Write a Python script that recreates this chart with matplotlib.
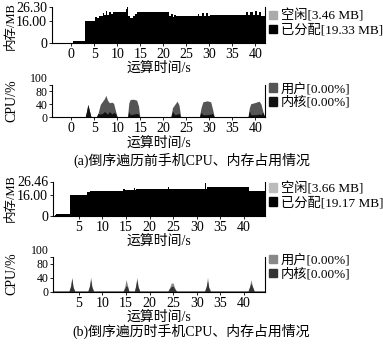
import matplotlib
matplotlib.use("Agg")
import matplotlib.pyplot as plt
from matplotlib.patches import Patch

plt.rcParams['font.family'] = ['Liberation Serif', 'Noto Sans CJK SC']
plt.rcParams['font.size'] = 10
plt.rcParams['axes.unicode_minus'] = False

# ---------------- data ----------------
# (a) memory before reverse traversal (step series, MB)
mem_a_t = [-4.2, 0.3, 3.0, 5.2, 5.6, 6.0, 6.8, 7.2, 7.5, 7.8, 8.2, 8.6, 9.0, 11.8, 12.1,
           12.4, 12.8, 13.3, 13.8, 14.3, 21.3, 21.7, 22.0, 22.3, 22.7, 27.5, 27.8, 28.3,
           28.8, 29.3, 29.8, 30.2, 38.0, 38.4, 38.8, 39.4, 39.9, 40.3, 40.7, 41.2, 42.1]
mem_a_alloc = [0, 1.45, 16.0, 18.9, 18.3, 19.2, 21.5, 19.8, 22.8, 20.3, 22.5, 21.0, 22.0,
               24.5, 25.6, 19.5, 17.6, 19.3, 21.0, 22.4, 19.3, 21.2, 18.6, 20.4, 19.5,
               21.0, 19.6, 21.4, 19.6, 21.7, 19.5, 20.4, 22.0, 19.8, 22.5, 20.4, 23.0,
               20.0, 22.6, 19.3, 19.3]
mem_a_ticks = [0, 16.00, 26.30]
mem_a_ticklabels = ["0", "16.00", "26.30"]

# (a) CPU before reverse traversal (%)
cpu_a_t = [-4.2, 3.0, 3.3, 3.6, 3.9, 4.3, 5.4, 5.8, 6.3, 6.8, 7.2, 7.5, 7.9, 8.3, 8.8, 9.2,
           9.6, 10.0, 12.2, 12.5, 12.8, 13.5, 14.2, 14.6, 14.9, 21.6, 22.0, 22.5, 23.0,
           23.4, 23.8, 27.8, 28.2, 28.6, 29.5, 30.3, 30.7, 31.1, 38.4, 38.7, 39.0, 40.0,
           40.8, 41.2, 41.6, 42.1]
cpu_a_total = [0, 0, 18, 40, 22, 0, 0, 12, 40, 50, 58, 68, 52, 45, 47, 43, 20, 0, 0, 45,
               55, 56, 53, 35, 0, 0, 30, 40, 50, 38, 0, 0, 30, 48, 51, 48, 25, 0, 0, 30,
               42, 46, 50, 42, 20, 0]
cpu_a_kernel = [0, 0, 18, 40, 22, 0, 0, 12, 10, 12, 18, 14, 10, 18, 10, 15, 12, 0, 0, 18,
                8, 10, 12, 10, 0, 0, 18, 8, 10, 12, 0, 0, 15, 8, 8, 10, 12, 0, 0, 20, 8,
                8, 10, 8, 15, 0]

# (b) memory during reverse traversal (step series, MB)
mem_b_t = [-0.5, 0.0, 0.2, 3.1, 6.8, 7.3, 8.0, 14.4, 14.7, 14.9, 16.6, 16.9, 17.1, 24.0,
           24.2, 24.4, 31.7, 31.9, 32.1, 41.0, 44.5]
mem_b_alloc = [0, 0.6, 1.45, 16.0, 18.3, 19.0, 19.4, 20.9, 19.6, 20.2, 21.4, 19.8, 20.8,
               22.2, 20.6, 20.6, 25.5, 21.0, 22.5, 18.9, 18.9]
mem_b_ticks = [0, 16.00, 26.46]
mem_b_ticklabels = ["0", "16.00", "26.46"]

# (b) CPU during reverse traversal (%)
cpu_b_t = [-0.5, 2.9, 3.25, 3.5, 3.75, 4.1, 6.9, 7.25, 7.5, 7.75, 8.1, 14.4, 14.75, 15.0,
           15.3, 15.6, 16.8, 17.05, 17.3, 17.55, 17.9, 23.9, 24.3, 24.6, 25.0, 25.3, 25.7,
           31.7, 32.05, 32.3, 32.55, 32.9, 40.9, 41.25, 41.5, 41.8, 42.2, 44.5]
cpu_b_total = [2, 2, 18, 42, 15, 2, 2, 18, 43, 16, 2, 2, 16, 35, 20, 2, 2, 18, 42, 16, 2,
               2, 14, 25, 25, 12, 2, 2, 18, 42, 14, 2, 2, 16, 35, 18, 2, 2]
cpu_b_kernel = [2, 2, 16, 38, 13, 2, 2, 15, 35, 13, 2, 2, 10, 18, 14, 2, 2, 16, 35, 14, 2,
                2, 10, 15, 16, 8, 2, 2, 15, 32, 12, 2, 2, 14, 25, 15, 2, 2]

cpu_ticks = [0, 40, 80, 100]
time_ticks = [0, 5, 10, 15, 20, 25, 30, 35, 40]
time_ticks_b = [5, 10, 15, 20, 25, 30, 35, 40]

# ---------------- figure ----------------
W, H = 383, 347
fig = plt.figure(figsize=(W / 100, H / 100), dpi=100)


def rect(l, r, top, bottom):
    return [l / W, 1 - bottom / H, (r - l) / W, (bottom - top) / H]


def style(ax, xticks, xlim):
    ax.spines['top'].set_visible(False)
    for s in ('right', 'left', 'bottom'):
        ax.spines[s].set_linewidth(0.8)
    ax.set_xlim(*xlim)
    ax.set_xticks(xticks)
    ax.tick_params(axis='both', length=2, width=0.6, pad=1.5, labelsize=10)
    ax.set_xlabel("运算时间/s", fontsize=10, labelpad=1)


def cpu_yaxis(ax):
    ax.set_ylim(0, 100)
    ax.set_yticks(cpu_ticks)
    ax.tick_params(axis='y', labelsize=8.5, pad=1)
    labels = ax.get_yticklabels()
    labels[-1].set_verticalalignment('bottom')
    labels[0].set_verticalalignment('center_baseline')


def add_legend(ax, handles, yanchor):
    ax.legend(handles=handles, loc='upper left', bbox_to_anchor=(1.0, yanchor),
              frameon=False, fontsize=9.5, handlelength=0.6, handleheight=0.6,
              handletextpad=0.3, labelspacing=0.1, borderaxespad=0.2, borderpad=0.1)


def ylabel_px(text, x, y, size):
    fig.text(x / W, 1 - y / H, text, rotation=90, ha='center', va='center',
             fontsize=size)


xlim_a = (-4.2, 42.1)
xlim_b = (-0.5, 44.5)

# Panel (a) memory
ax1 = fig.add_axes(rect(52, 265, 6.5, 42.7))
ax1.fill_between(mem_a_t, 0, mem_a_alloc, step='post', color='black', lw=0)
ax1.set_ylim(0, 26.30)
ax1.set_yticks(mem_a_ticks)
ax1.set_yticklabels(mem_a_ticklabels)
ylabel_px("内存/MB", 11, 26, 9)
style(ax1, time_ticks, xlim_a)
add_legend(ax1, [Patch(color='#aaaaaa', label='空闲[3.46 MB]'),
                 Patch(color='black', label='已分配[19.33 MB]')], 1.02)

# Panel (a) CPU
ax2 = fig.add_axes(rect(52, 265, 85, 117.3))
ax2.fill_between(cpu_a_t, 0, cpu_a_total, color='#555555', lw=0)
ax2.fill_between(cpu_a_t, 0, cpu_a_kernel, color='#111111', lw=0)
style(ax2, time_ticks, xlim_a)
cpu_yaxis(ax2)
ylabel_px("CPU/%", 12, 101, 10)
add_legend(ax2, [Patch(color='#555555', label='用户[0.00%]'),
                 Patch(color='#111111', label='内核[0.00%]')], 1.2)

fig.text(0.5, 1 - 160 / H, "(a)倒序遍历前手机CPU、内存占用情况", ha='center', va='center',
         fontsize=10)

# Panel (b) memory
ax3 = fig.add_axes(rect(53, 265, 181.5, 215.7))
ax3.fill_between(mem_b_t, 0, mem_b_alloc, step='post', color='black', lw=0)
ax3.set_ylim(0, 26.46)
ax3.set_yticks(mem_b_ticks)
ax3.set_yticklabels(mem_b_ticklabels)
ylabel_px("内存/MB", 11, 198, 9)
style(ax3, time_ticks_b, xlim_b)
add_legend(ax3, [Patch(color='#bbbbbb', label='空闲[3.66 MB]'),
                 Patch(color='black', label='已分配[19.17 MB]')], 1.1)

# Panel (b) CPU
ax4 = fig.add_axes(rect(53, 265, 257, 291.7))
ax4.fill_between(cpu_b_t, 0, cpu_b_total, color='#888888', lw=0)
ax4.fill_between(cpu_b_t, 0, cpu_b_kernel, color='#333333', lw=0)
style(ax4, time_ticks_b, xlim_b)
cpu_yaxis(ax4)
ylabel_px("CPU/%", 12, 274, 10)
add_legend(ax4, [Patch(color='#888888', label='用户[0.00%]'),
                 Patch(color='#333333', label='内核[0.00%]')], 1.2)

fig.text(0.5, 1 - 331 / H, "(b)倒序遍历时手机CPU、内存占用情况", ha='center', va='center',
         fontsize=10)

fig.savefig("out.png", dpi=100)
